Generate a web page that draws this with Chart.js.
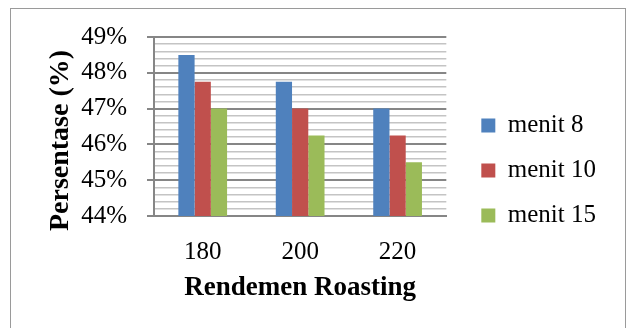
<!DOCTYPE html>
<html>
<head>
    <title>Rendemen Roasting</title>
    <script src="https://cdn.jsdelivr.net/npm/chart.js"></script>
    <style>
        body { margin: 0; background: #fff; width: 626px; height: 328px; overflow: hidden; position: relative; }
        #frame { position: absolute; left: 10px; top: 8px; width: 614px; height: 340px; border: 1px solid #9a9a9a; }
        #wrap { position: absolute; left: 0; top: 0; width: 613px; height: 330px; }
    </style>
</head>
<body>
    <div id="frame">
        <div id="wrap"><canvas id="rendemenChart"></canvas></div>
    </div>

    <script>
        // data
        const categories = ['180', '200', '220'];
        const menit8 = [48.5, 47.75, 47.0];
        const menit10 = [47.75, 47.0, 46.25];
        const menit15 = [47.0, 46.25, 45.5];
        const yMin = 44;
        const yMax = 49;
        const yStep = 0.2; // minor gridlines

        const serif = "'Liberation Serif', 'Times New Roman', serif";
        const isMajor = v => Math.abs(v - Math.round(v)) < 1e-6;

        const ctx = document.getElementById('rendemenChart').getContext('2d');
        const chart = new Chart(ctx, {
            type: 'bar',
            data: {
                labels: categories,
                datasets: [
                    { label: 'menit 8', data: menit8, backgroundColor: '#4F81BD' },
                    { label: 'menit 10', data: menit10, backgroundColor: '#C0504D' },
                    { label: 'menit 15', data: menit15, backgroundColor: '#9BBB59' }
                ]
            },
            options: {
                responsive: true,
                maintainAspectRatio: false,
                animation: false,
                datasets: { bar: { categoryPercentage: 0.5, barPercentage: 1.0 } },
                layout: { padding: { top: 28, bottom: 35, left: 0, right: 18 } },
                plugins: {
                    tooltip: { enabled: false },
                    legend: {
                        position: 'right',
                        maxWidth: 220,
                        labels: {
                            boxWidth: 14,
                            boxHeight: 14,
                            padding: 20,
                            color: '#000',
                            font: { family: serif, size: 25 }
                        }
                    }
                },
                scales: {
                    x: {
                        afterFit: s => { s.height = 88; },
                        grid: { display: false, drawTicks: false },
                        border: { display: true, color: '#868686', width: 2 },
                        ticks: { color: '#000', padding: 21, font: { family: serif, size: 25 } },
                        title: {
                            display: true,
                            text: 'Rendemen Roasting',
                            color: '#000',
                            padding: { top: 5, bottom: 0 },
                            font: { family: serif, size: 27, weight: 'bold' }
                        }
                    },
                    y: {
                        min: yMin,
                        max: yMax,
                        afterFit: s => {
                            s.width = 143;
                            s.paddingTop = 0;
                            s.paddingBottom = 0;
                        },
                        grid: {
                            color: c => isMajor(c.tick.value) ? '#868686' : '#c4c4c4',
                            lineWidth: c => isMajor(c.tick.value) ? 2 : 1.5,
                            tickLength: 7,
                            tickColor: c => isMajor(c.tick.value) ? '#868686' : 'rgba(0,0,0,0)'
                        },
                        border: { display: true, color: '#868686', width: 2 },
                        ticks: {
                            stepSize: yStep,
                            autoSkip: false,
                            padding: 20,
                            color: '#000',
                            font: { family: serif, size: 25 },
                            callback: v => isMajor(v) ? Math.round(v) + '%' : ''
                        },
                        title: {
                            display: true,
                            // trailing spaces push the rotated title a bit lower, as in the original
                            text: 'Persentase (%)    ',
                            color: '#000',
                            padding: { top: 33, bottom: 4 },
                            font: { family: serif, size: 28, weight: 'bold' }
                        }
                    },
                    // empty axis that only keeps a gap between plot and legend
                    gap: {
                        axis: 'y',
                        position: 'right',
                        grid: { display: false },
                        border: { display: false },
                        ticks: { display: false },
                        afterFit: s => { s.width = 15; }
                    }
                }
            }
        });
    </script>
</body>
</html>
